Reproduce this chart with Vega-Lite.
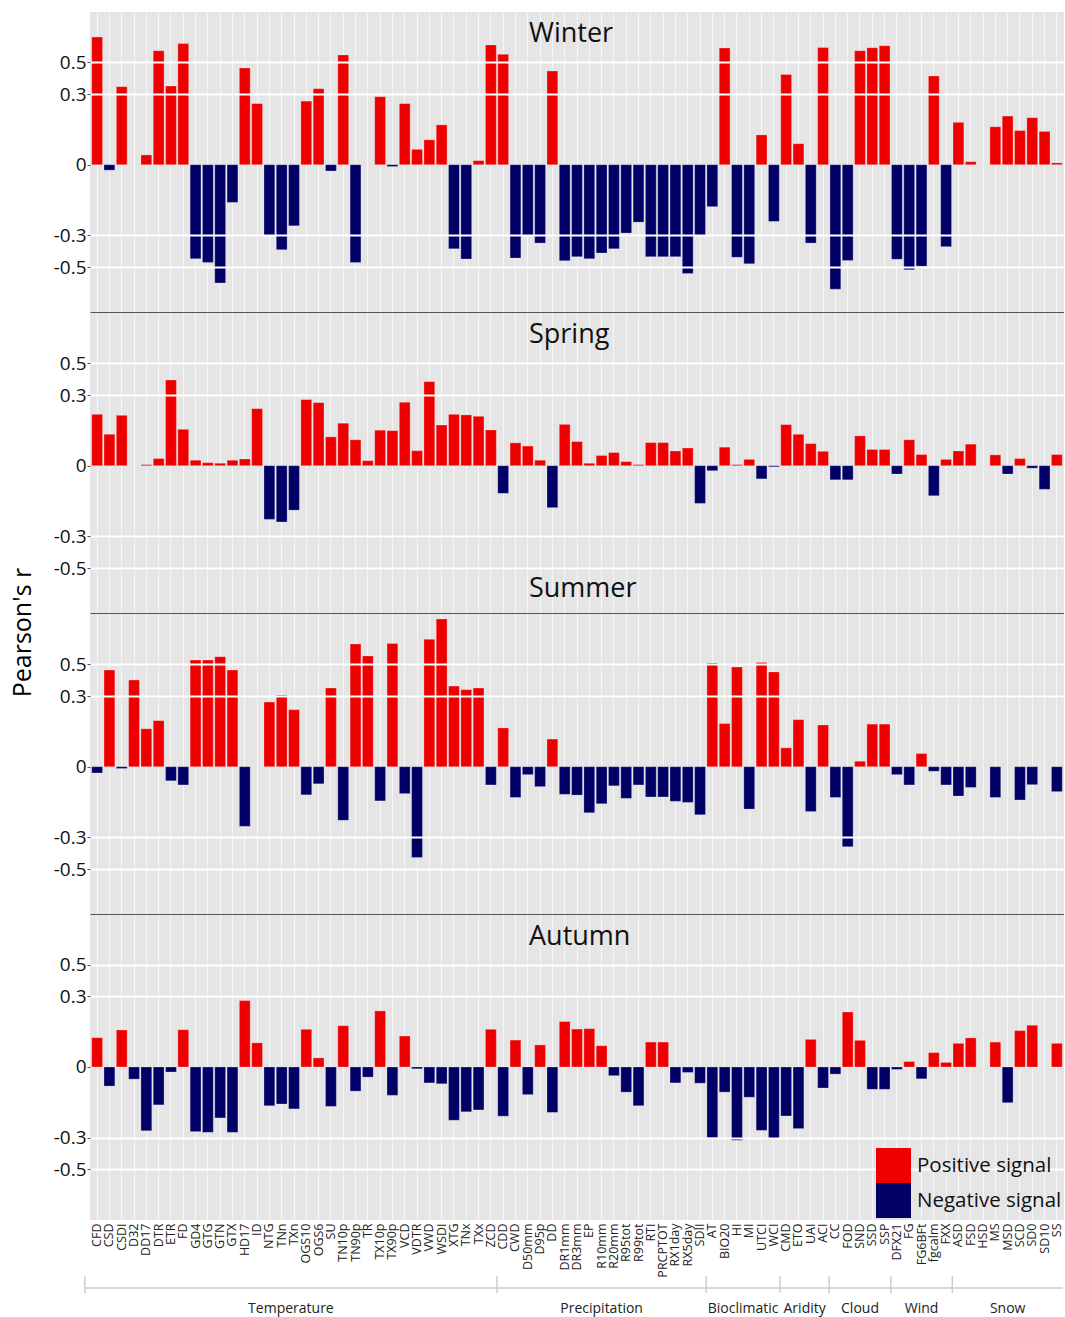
{
  "$schema": "https://vega.github.io/schema/vega-lite/v6.json",
  "padding": {"left": 10, "top": 12, "right": 0, "bottom": 0},
  "spacing": 0,
  "bounds": "flush",
  "config": {
    "font": "Open Sans",
    "view": {"fill": "#e5e5e5", "stroke": null}
  },
  "resolve": {
    "scale": {"x": "independent", "y": "independent", "color": "independent"},
    "legend": {"color": "independent"}
  },
  "datasets": {
    "winter": [
      {"i":"CFD","r":0.675,"s":"P"},{"i":"CSD","r":-0.009,"s":"N"},{"i":"CSDI","r":0.344,"s":"P"},{"i":"DD17","r":0.02,"s":"P"},{"i":"DTR","r":0.578,"s":"P"},{"i":"ETR","r":0.348,"s":"P"},{"i":"FD","r":0.628,"s":"P"},{"i":"GD4","r":-0.444,"s":"N"},{"i":"GTG","r":-0.468,"s":"N"},{"i":"GTN","r":-0.608,"s":"N"},{"i":"GTX","r":-0.127,"s":"N"},{"i":"HD17","r":0.461,"s":"P"},{"i":"ID","r":0.246,"s":"P"},{"i":"NTG","r":-0.302,"s":"N"},{"i":"TNn","r":-0.387,"s":"N"},{"i":"TXn","r":-0.246,"s":"N"},{"i":"OGS10","r":0.26,"s":"P"},{"i":"OGS6","r":0.332,"s":"P"},{"i":"SU","r":-0.011,"s":"N"},{"i":"TN10p","r":0.549,"s":"P"},{"i":"TN90p","r":-0.468,"s":"N"},{"i":"TX10p","r":0.285,"s":"P"},{"i":"TX90p","r":-0.002,"s":"N"},{"i":"VCD","r":0.246,"s":"P"},{"i":"VDTR","r":0.037,"s":"P"},{"i":"VWD","r":0.072,"s":"P"},{"i":"WSDI","r":0.137,"s":"P"},{"i":"XTG","r":-0.381,"s":"N"},{"i":"TNx","r":-0.446,"s":"N"},{"i":"TXx","r":0.006,"s":"P"},{"i":"ZCD","r":0.619,"s":"P"},
      {"i":"CDD","r":0.553,"s":"P"},{"i":"CWD","r":-0.44,"s":"N"},{"i":"D50mm","r":-0.302,"s":"N"},{"i":"D95p","r":-0.346,"s":"N"},{"i":"DD","r":0.442,"s":"P"},{"i":"DR1mm","r":-0.457,"s":"N"},{"i":"DR3mm","r":-0.431,"s":"N"},{"i":"EP","r":-0.444,"s":"N"},{"i":"R10mm","r":-0.408,"s":"N"},{"i":"R20mm","r":-0.381,"s":"N"},{"i":"R95tot","r":-0.287,"s":"N"},{"i":"R99tot","r":-0.226,"s":"N"},{"i":"RTI","r":-0.431,"s":"N"},{"i":"PRCPTOT","r":-0.431,"s":"N"},{"i":"RX1day","r":-0.431,"s":"N"},{"i":"RX5day","r":-0.542,"s":"N"},{"i":"SDII","r":-0.302,"s":"N"},
      {"i":"AT","r":-0.147,"s":"N"},{"i":"BIO20","r":0.597,"s":"P"},{"i":"HI","r":-0.435,"s":"N"},{"i":"MI","r":-0.477,"s":"N"},{"i":"UTCI","r":0.092,"s":"P"},{"i":"WCI","r":-0.222,"s":"N"},
      {"i":"CMD","r":0.42,"s":"P"},{"i":"ETO","r":0.057,"s":"P"},{"i":"UAI","r":-0.346,"s":"N"},{"i":"ACI","r":0.601,"s":"P"},
      {"i":"CC","r":-0.652,"s":"N"},{"i":"FOD","r":-0.455,"s":"N"},{"i":"SND","r":0.578,"s":"P"},{"i":"SSD","r":0.599,"s":"P"},{"i":"SSP","r":0.613,"s":"P"},
      {"i":"DFX21","r":-0.448,"s":"N"},{"i":"FG","r":-0.517,"s":"N"},{"i":"FG6BFt","r":-0.494,"s":"N"},{"i":"fgcalm","r":0.41,"s":"P"},{"i":"FXX","r":-0.368,"s":"N"},
      {"i":"ASD","r":0.149,"s":"P"},{"i":"FSD","r":0.004,"s":"P"},{"i":"MS","r":0.128,"s":"P"},{"i":"MSD","r":0.18,"s":"P"},{"i":"SCD","r":0.111,"s":"P"},{"i":"SD0","r":0.172,"s":"P"},{"i":"SD10","r":0.107,"s":"P"},{"i":"SS","r":0.002,"s":"P"}
    ],
    "spring": [
      {"i":"CFD","r":0.194,"s":"P"},{"i":"CSD","r":0.099,"s":"P"},{"i":"CSDI","r":0.189,"s":"P"},{"i":"DD17","r":0.001,"s":"P"},{"i":"DTR","r":0.013,"s":"P"},{"i":"ETR","r":0.391,"s":"P"},{"i":"FD","r":0.121,"s":"P"},{"i":"GD4","r":0.009,"s":"P"},{"i":"GTG","r":0.004,"s":"P"},{"i":"GTN","r":0.003,"s":"P"},{"i":"GTX","r":0.009,"s":"P"},{"i":"HD17","r":0.012,"s":"P"},{"i":"ID","r":0.224,"s":"P"},{"i":"NTG","r":-0.206,"s":"N"},{"i":"TNn","r":-0.22,"s":"N"},{"i":"TXn","r":-0.159,"s":"N"},{"i":"OGS10","r":0.274,"s":"P"},{"i":"OGS6","r":0.257,"s":"P"},{"i":"SU","r":0.088,"s":"P"},{"i":"TN10p","r":0.15,"s":"P"},{"i":"TN90p","r":0.076,"s":"P"},{"i":"TR","r":0.008,"s":"P"},{"i":"TX10p","r":0.117,"s":"P"},{"i":"TX90p","r":0.115,"s":"P"},{"i":"VCD","r":0.259,"s":"P"},{"i":"VDTR","r":0.036,"s":"P"},{"i":"VWD","r":0.381,"s":"P"},{"i":"WSDI","r":0.141,"s":"P"},{"i":"XTG","r":0.194,"s":"P"},{"i":"TNx","r":0.191,"s":"P"},{"i":"TXx","r":0.184,"s":"P"},{"i":"ZCD","r":0.118,"s":"P"},
      {"i":"CDD","r":-0.083,"s":"N"},{"i":"CWD","r":0.064,"s":"P"},{"i":"D50mm","r":0.052,"s":"P"},{"i":"D95p","r":0.009,"s":"P"},{"i":"DD","r":-0.147,"s":"N"},{"i":"DR1mm","r":0.144,"s":"P"},{"i":"DR3mm","r":0.069,"s":"P"},{"i":"EP","r":0.003,"s":"P"},{"i":"R10mm","r":0.021,"s":"P"},{"i":"R20mm","r":0.03,"s":"P"},{"i":"R95tot","r":0.006,"s":"P"},{"i":"R99tot","r":0.001,"s":"P"},{"i":"RTI","r":0.065,"s":"P"},{"i":"PRCPTOT","r":0.065,"s":"P"},{"i":"RX1day","r":0.035,"s":"P"},{"i":"RX5day","r":0.045,"s":"P"},{"i":"SDII","r":-0.127,"s":"N"},
      {"i":"AT","r":-0.008,"s":"N"},{"i":"BIO20","r":0.048,"s":"P"},{"i":"HI","r":0.001,"s":"P"},{"i":"MI","r":0.011,"s":"P"},{"i":"UTCI","r":-0.03,"s":"N"},{"i":"WCI","r":-0.001,"s":"N"},
      {"i":"CMD","r":0.143,"s":"P"},{"i":"ETO","r":0.099,"s":"P"},{"i":"UAI","r":0.061,"s":"P"},{"i":"ACI","r":0.034,"s":"P"},
      {"i":"CC","r":-0.033,"s":"N"},{"i":"FOD","r":-0.033,"s":"N"},{"i":"SND","r":0.092,"s":"P"},{"i":"SSD","r":0.04,"s":"P"},{"i":"SSP","r":0.04,"s":"P"},
      {"i":"DFX21","r":-0.016,"s":"N"},{"i":"FG","r":0.076,"s":"P"},{"i":"FG6BFt","r":0.024,"s":"P"},{"i":"fgcalm","r":-0.093,"s":"N"},{"i":"FXX","r":0.011,"s":"P"},
      {"i":"ASD","r":0.035,"s":"P"},{"i":"FSD","r":0.059,"s":"P"},{"i":"MS","r":0.023,"s":"P"},{"i":"MSD","r":-0.016,"s":"N"},{"i":"SCD","r":0.013,"s":"P"},{"i":"SD0","r":-0.003,"s":"N"},{"i":"SD10","r":-0.067,"s":"N"},{"i":"SS","r":0.024,"s":"P"}
    ],
    "summer": [
      {"i":"CFD","r":-0.011,"s":"N"},{"i":"CSD","r":0.461,"s":"P"},{"i":"CSDI","r":-0.002,"s":"N"},{"i":"D32","r":0.397,"s":"P"},{"i":"DD17","r":0.128,"s":"P"},{"i":"DTR","r":0.167,"s":"P"},{"i":"ETR","r":-0.033,"s":"N"},{"i":"FD","r":-0.047,"s":"N"},{"i":"GD4","r":0.528,"s":"P"},{"i":"GTG","r":0.528,"s":"P"},{"i":"GTN","r":0.551,"s":"P"},{"i":"GTX","r":0.461,"s":"P"},{"i":"HD17","r":-0.238,"s":"N"},{"i":"NTG","r":0.266,"s":"P"},{"i":"TNn","r":0.306,"s":"P"},{"i":"TXn","r":0.224,"s":"P"},{"i":"OGS10","r":-0.085,"s":"N"},{"i":"OGS6","r":-0.043,"s":"N"},{"i":"SU","r":0.348,"s":"P"},{"i":"TN10p","r":-0.206,"s":"N"},{"i":"TN90p","r":0.64,"s":"P"},{"i":"TR","r":0.556,"s":"P"},{"i":"TX10p","r":-0.111,"s":"N"},{"i":"TX90p","r":0.644,"s":"P"},{"i":"VCD","r":-0.08,"s":"N"},{"i":"VDTR","r":-0.423,"s":"N"},{"i":"VWD","r":0.673,"s":"P"},{"i":"WSDI","r":0.825,"s":"P"},{"i":"XTG","r":0.36,"s":"P"},{"i":"TNx","r":0.338,"s":"P"},{"i":"TXx","r":0.348,"s":"P"},{"i":"ZCD","r":-0.047,"s":"N"},
      {"i":"CDD","r":0.132,"s":"P"},{"i":"CWD","r":-0.096,"s":"N"},{"i":"D50mm","r":-0.015,"s":"N"},{"i":"D95p","r":-0.053,"s":"N"},{"i":"DD","r":0.083,"s":"P"},{"i":"DR1mm","r":-0.083,"s":"N"},{"i":"DR3mm","r":-0.086,"s":"N"},{"i":"EP","r":-0.167,"s":"N"},{"i":"R10mm","r":-0.124,"s":"N"},{"i":"R20mm","r":-0.05,"s":"N"},{"i":"R95tot","r":-0.1,"s":"N"},{"i":"R99tot","r":-0.047,"s":"N"},{"i":"RTI","r":-0.094,"s":"N"},{"i":"PRCPTOT","r":-0.094,"s":"N"},{"i":"RX1day","r":-0.113,"s":"N"},{"i":"RX5day","r":-0.118,"s":"N"},{"i":"SDII","r":-0.177,"s":"N"},
      {"i":"AT","r":0.508,"s":"P"},{"i":"BIO20","r":0.153,"s":"P"},{"i":"HI","r":0.481,"s":"P"},{"i":"MI","r":-0.149,"s":"N"},{"i":"UTCI","r":0.512,"s":"P"},{"i":"WCI","r":0.449,"s":"P"},
      {"i":"CMD","r":0.049,"s":"P"},{"i":"ETO","r":0.172,"s":"P"},{"i":"UAI","r":-0.161,"s":"N"},{"i":"ACI","r":0.146,"s":"P"},
      {"i":"CC","r":-0.096,"s":"N"},{"i":"FOD","r":-0.356,"s":"N"},{"i":"SND","r":0.009,"s":"P"},{"i":"SSD","r":0.15,"s":"P"},{"i":"SSP","r":0.15,"s":"P"},
      {"i":"DFX21","r":-0.015,"s":"N"},{"i":"FG","r":-0.047,"s":"N"},{"i":"FG6BFt","r":0.03,"s":"P"},{"i":"fgcalm","r":-0.007,"s":"N"},{"i":"FXX","r":-0.047,"s":"N"},
      {"i":"ASD","r":-0.09,"s":"N"},{"i":"FSD","r":-0.056,"s":"N"},{"i":"MS","r":-0.096,"s":"N"},{"i":"SCD","r":-0.107,"s":"N"},{"i":"SD0","r":-0.046,"s":"N"},{"i":"SS","r":-0.072,"s":"N"}
    ],
    "autumn": [
      {"i":"CFD","r":0.09,"s":"P"},{"i":"CSD","r":-0.05,"s":"N"},{"i":"CSDI","r":0.124,"s":"P"},{"i":"D32","r":-0.027,"s":"N"},{"i":"DD17","r":-0.261,"s":"N"},{"i":"DTR","r":-0.128,"s":"N"},{"i":"ETR","r":-0.008,"s":"N"},{"i":"FD","r":0.125,"s":"P"},{"i":"GD4","r":-0.266,"s":"N"},{"i":"GTG","r":-0.27,"s":"N"},{"i":"GTN","r":-0.192,"s":"N"},{"i":"GTX","r":-0.27,"s":"N"},{"i":"HD17","r":0.276,"s":"P"},{"i":"ID","r":0.069,"s":"P"},{"i":"NTG","r":-0.132,"s":"N"},{"i":"TNn","r":-0.124,"s":"N"},{"i":"TXn","r":-0.147,"s":"N"},{"i":"OGS10","r":0.127,"s":"P"},{"i":"OGS6","r":0.018,"s":"P"},{"i":"SU","r":-0.135,"s":"N"},{"i":"TN10p","r":0.144,"s":"P"},{"i":"TN90p","r":-0.069,"s":"N"},{"i":"TR","r":-0.021,"s":"N"},{"i":"TX10p","r":0.219,"s":"P"},{"i":"TX90p","r":-0.086,"s":"N"},{"i":"VCD","r":0.097,"s":"P"},{"i":"VDTR","r":-0.002,"s":"N"},{"i":"VWD","r":-0.039,"s":"N"},{"i":"WSDI","r":-0.042,"s":"N"},{"i":"XTG","r":-0.204,"s":"N"},{"i":"TNx","r":-0.161,"s":"N"},{"i":"TXx","r":-0.152,"s":"N"},{"i":"ZCD","r":0.127,"s":"P"},
      {"i":"CDD","r":-0.183,"s":"N"},{"i":"CWD","r":0.08,"s":"P"},{"i":"D50mm","r":-0.083,"s":"N"},{"i":"D95p","r":0.061,"s":"P"},{"i":"DD","r":-0.164,"s":"N"},{"i":"DR1mm","r":0.164,"s":"P"},{"i":"DR3mm","r":0.128,"s":"P"},{"i":"EP","r":0.13,"s":"P"},{"i":"R10mm","r":0.058,"s":"P"},{"i":"R20mm","r":-0.017,"s":"N"},{"i":"R95tot","r":-0.073,"s":"N"},{"i":"R99tot","r":-0.132,"s":"N"},{"i":"RTI","r":0.072,"s":"P"},{"i":"PRCPTOT","r":0.072,"s":"P"},{"i":"RX1day","r":-0.039,"s":"N"},{"i":"RX5day","r":-0.009,"s":"N"},{"i":"SDII","r":-0.04,"s":"N"},
      {"i":"AT","r":-0.301,"s":"N"},{"i":"BIO20","r":-0.073,"s":"N"},{"i":"HI","r":-0.316,"s":"N"},{"i":"MI","r":-0.094,"s":"N"},{"i":"UTCI","r":-0.259,"s":"N"},{"i":"WCI","r":-0.306,"s":"N"},
      {"i":"CMD","r":-0.182,"s":"N"},{"i":"ETO","r":-0.249,"s":"N"},{"i":"UAI","r":0.083,"s":"P"},{"i":"ACI","r":-0.057,"s":"N"},
      {"i":"CC","r":-0.013,"s":"N"},{"i":"FOD","r":0.213,"s":"P"},{"i":"SND","r":0.079,"s":"P"},{"i":"SSD","r":-0.062,"s":"N"},{"i":"SSP","r":-0.062,"s":"N"},
      {"i":"DFX21","r":-0.003,"s":"N"},{"i":"FG","r":0.009,"s":"P"},{"i":"FG6BFt","r":-0.026,"s":"N"},{"i":"fgcalm","r":0.034,"s":"P"},{"i":"FXX","r":0.007,"s":"P"},
      {"i":"ASD","r":0.067,"s":"P"},{"i":"FSD","r":0.089,"s":"P"},{"i":"MS","r":0.072,"s":"P"},{"i":"MSD","r":-0.118,"s":"N"},{"i":"SCD","r":0.121,"s":"P"},{"i":"SD0","r":0.146,"s":"P"},{"i":"SS","r":0.067,"s":"P"}
    ],
    "groups": [
      {"g":"Temperature","from":0,"to":33.5},
      {"g":"Precipitation","from":33.5,"to":50.5},
      {"g":"Bioclimatic","from":50.5,"to":56.5},
      {"g":"Aridity","from":56.5,"to":60.5},
      {"g":"Cloud","from":60.5,"to":65.5},
      {"g":"Wind","from":65.5,"to":70.5},
      {"g":"Snow","from":70.5,"to":79.5}
    ]
  },
  "vconcat": [
    {
      "width": 974, "height": 301,
      "data": {"name": "winter"},
      "title": {"text": "Winter", "fontSize": 27, "fontWeight": "normal", "color": "#111", "anchor": "start", "frame": "group", "dx": 439, "offset": -36},
      "mark": {"type": "bar", "stroke": "white", "strokeWidth": 0.5, "strokeOpacity": 0.5},
      "encoding": {
        "x": {"field": "i", "type": "nominal",
          "scale": {"domain": ["CFD","CSD","CSDI","D32","DD17","DTR","ETR","FD","GD4","GTG","GTN","GTX","HD17","ID","NTG","TNn","TXn","OGS10","OGS6","SU","TN10p","TN90p","TR","TX10p","TX90p","VCD","VDTR","VWD","WSDI","XTG","TNx","TXx","ZCD","CDD","CWD","D50mm","D95p","DD","DR1mm","DR3mm","EP","R10mm","R20mm","R95tot","R99tot","RTI","PRCPTOT","RX1day","RX5day","SDII","AT","BIO20","HI","MI","UTCI","WCI","CMD","ETO","UAI","ACI","CC","FOD","SND","SSD","SSP","DFX21","FG","FG6BFt","fgcalm","FXX","ASD","FSD","HSD","MS","MSD","SCD","SD0","SD10","SS"], "paddingInner": 0.12, "paddingOuter": 0.14},
          "axis": {"title": null, "labels": false, "ticks": false, "domain": true, "domainColor": "#555555", "domainWidth": 3, "grid": true, "gridColor": "white", "gridWidth": 0.8, "gridOpacity": 0.8}},
        "y": {"field": "r", "type": "quantitative",
          "scale": {"type": "pow", "exponent": 0.73, "domain": [-0.829, 0.863], "nice": false, "zero": false},
          "axis": {"title": null, "values": [-0.5, -0.3, 0, 0.3, 0.5], "domain": false, "ticks": true, "tickSize": 3, "tickColor": "#555", "labelFontSize": 19, "labelColor": "#111", "labelPadding": 1, "labelExpr": "datum.value == 0 ? '0' : replace(datum.label, '\u2212', '-')", "grid": true, "gridColor": "white", "gridWidth": 2, "gridOpacity": {"condition": {"test": "datum.value === 0", "value": 0}, "value": 1}, "zindex": 1}},
        "y2": {"datum": 0},
        "color": {"field": "s", "type": "nominal", "scale": {"domain": ["P", "N"], "range": ["#ee0000", "#000066"]}, "legend": null}
      }
    },
    {
      "width": 974, "height": 301,
      "data": {"name": "spring"},
      "title": {"text": "Spring", "fontSize": 27, "fontWeight": "normal", "color": "#111", "anchor": "start", "frame": "group", "dx": 439, "offset": -36},
      "mark": {"type": "bar", "stroke": "white", "strokeWidth": 0.5, "strokeOpacity": 0.5},
      "encoding": {
        "x": {"field": "i", "type": "nominal",
          "scale": {"domain": ["CFD","CSD","CSDI","D32","DD17","DTR","ETR","FD","GD4","GTG","GTN","GTX","HD17","ID","NTG","TNn","TXn","OGS10","OGS6","SU","TN10p","TN90p","TR","TX10p","TX90p","VCD","VDTR","VWD","WSDI","XTG","TNx","TXx","ZCD","CDD","CWD","D50mm","D95p","DD","DR1mm","DR3mm","EP","R10mm","R20mm","R95tot","R99tot","RTI","PRCPTOT","RX1day","RX5day","SDII","AT","BIO20","HI","MI","UTCI","WCI","CMD","ETO","UAI","ACI","CC","FOD","SND","SSD","SSP","DFX21","FG","FG6BFt","fgcalm","FXX","ASD","FSD","HSD","MS","MSD","SCD","SD0","SD10","SS"], "paddingInner": 0.12, "paddingOuter": 0.14},
          "axis": {"title": null, "labels": false, "ticks": false, "domain": true, "domainColor": "#555555", "domainWidth": 3, "grid": true, "gridColor": "white", "gridWidth": 0.8, "gridOpacity": 0.8}},
        "y": {"field": "r", "type": "quantitative",
          "scale": {"type": "pow", "exponent": 0.73, "domain": [-0.829, 0.863], "nice": false, "zero": false},
          "axis": {"title": null, "values": [-0.5, -0.3, 0, 0.3, 0.5], "domain": false, "ticks": true, "tickSize": 3, "tickColor": "#555", "labelFontSize": 19, "labelColor": "#111", "labelPadding": 1, "labelExpr": "datum.value == 0 ? '0' : replace(datum.label, '\u2212', '-')", "grid": true, "gridColor": "white", "gridWidth": 2, "gridOpacity": {"condition": {"test": "datum.value === 0", "value": 0}, "value": 1}, "zindex": 1}},
        "y2": {"datum": 0},
        "color": {"field": "s", "type": "nominal", "scale": {"domain": ["P", "N"], "range": ["#ee0000", "#000066"]}, "legend": null}
      }
    },
    {
      "width": 974, "height": 301,
      "data": {"name": "summer"},
      "title": {"text": "Summer", "fontSize": 27, "fontWeight": "normal", "color": "#111", "anchor": "start", "frame": "group", "dx": 439, "offset": -36},
      "mark": {"type": "bar", "stroke": "white", "strokeWidth": 0.5, "strokeOpacity": 0.5},
      "encoding": {
        "x": {"field": "i", "type": "nominal",
          "scale": {"domain": ["CFD","CSD","CSDI","D32","DD17","DTR","ETR","FD","GD4","GTG","GTN","GTX","HD17","ID","NTG","TNn","TXn","OGS10","OGS6","SU","TN10p","TN90p","TR","TX10p","TX90p","VCD","VDTR","VWD","WSDI","XTG","TNx","TXx","ZCD","CDD","CWD","D50mm","D95p","DD","DR1mm","DR3mm","EP","R10mm","R20mm","R95tot","R99tot","RTI","PRCPTOT","RX1day","RX5day","SDII","AT","BIO20","HI","MI","UTCI","WCI","CMD","ETO","UAI","ACI","CC","FOD","SND","SSD","SSP","DFX21","FG","FG6BFt","fgcalm","FXX","ASD","FSD","HSD","MS","MSD","SCD","SD0","SD10","SS"], "paddingInner": 0.12, "paddingOuter": 0.14},
          "axis": {"title": null, "labels": false, "ticks": false, "domain": true, "domainColor": "#555555", "domainWidth": 3, "grid": true, "gridColor": "white", "gridWidth": 0.8, "gridOpacity": 0.8}},
        "y": {"field": "r", "type": "quantitative",
          "scale": {"type": "pow", "exponent": 0.73, "domain": [-0.829, 0.863], "nice": false, "zero": false},
          "axis": {"title": "Pearson's r", "titleFontSize": 25, "titleFontWeight": "normal", "titleColor": "#000", "titleY": 18, "titlePadding": 18, "values": [-0.5, -0.3, 0, 0.3, 0.5], "domain": false, "ticks": true, "tickSize": 3, "tickColor": "#555", "labelFontSize": 19, "labelColor": "#111", "labelPadding": 1, "labelExpr": "datum.value == 0 ? '0' : replace(datum.label, '\u2212', '-')", "grid": true, "gridColor": "white", "gridWidth": 2, "gridOpacity": {"condition": {"test": "datum.value === 0", "value": 0}, "value": 1}, "zindex": 1}},
        "y2": {"datum": 0},
        "color": {"field": "s", "type": "nominal", "scale": {"domain": ["P", "N"], "range": ["#ee0000", "#000066"]}, "legend": null}
      }
    },
    {
      "width": 974, "height": 305,
      "data": {"name": "autumn"},
      "title": {"text": "Autumn", "fontSize": 27, "fontWeight": "normal", "color": "#111", "anchor": "start", "frame": "group", "dx": 439, "offset": -36},
      "mark": {"type": "bar", "stroke": "white", "strokeWidth": 0.5, "strokeOpacity": 0.5},
      "encoding": {
        "x": {"field": "i", "type": "nominal",
          "scale": {"domain": ["CFD","CSD","CSDI","D32","DD17","DTR","ETR","FD","GD4","GTG","GTN","GTX","HD17","ID","NTG","TNn","TXn","OGS10","OGS6","SU","TN10p","TN90p","TR","TX10p","TX90p","VCD","VDTR","VWD","WSDI","XTG","TNx","TXx","ZCD","CDD","CWD","D50mm","D95p","DD","DR1mm","DR3mm","EP","R10mm","R20mm","R95tot","R99tot","RTI","PRCPTOT","RX1day","RX5day","SDII","AT","BIO20","HI","MI","UTCI","WCI","CMD","ETO","UAI","ACI","CC","FOD","SND","SSD","SSP","DFX21","FG","FG6BFt","fgcalm","FXX","ASD","FSD","HSD","MS","MSD","SCD","SD0","SD10","SS"], "paddingInner": 0.12, "paddingOuter": 0.14},
          "axis": {"title": null, "labels": true, "labelAngle": 270, "labelFontSize": 12.5, "labelColor": "#222", "labelPadding": 3, "labelOverlap": false, "labelBound": false, "ticks": false, "domain": false, "grid": true, "gridColor": "white", "gridWidth": 0.8, "gridOpacity": 0.8}},
        "y": {"field": "r", "type": "quantitative",
          "scale": {"type": "pow", "exponent": 0.73, "domain": [-0.866, 0.858], "nice": false, "zero": false},
          "axis": {"title": null, "values": [-0.5, -0.3, 0, 0.3, 0.5], "domain": false, "ticks": true, "tickSize": 3, "tickColor": "#555", "labelFontSize": 19, "labelColor": "#111", "labelPadding": 1, "labelExpr": "datum.value == 0 ? '0' : replace(datum.label, '\u2212', '-')", "grid": true, "gridColor": "white", "gridWidth": 2, "gridOpacity": {"condition": {"test": "datum.value === 0", "value": 0}, "value": 1}, "zindex": 1}},
        "y2": {"datum": 0},
        "color": {"field": "s", "type": "nominal", "scale": {"domain": ["P", "N"], "range": ["#ee0000", "#000066"]},
          "legend": {"orient": "bottom-right", "title": null, "zindex": 3, "symbolType": "square", "symbolSize": 1225, "symbolStrokeWidth": 0, "symbolOpacity": 1, "labelFontSize": 20.5, "labelColor": "#111", "labelLimit": 300, "labelOffset": 6, "rowPadding": 0, "padding": 0, "offset": 2, "labelExpr": "datum.label == 'P' ? 'Positive signal' : 'Negative signal'"}}
      }
    },
    {
      "width": 974, "height": 97,
      "view": {"fill": null, "stroke": null},
      "data": {"name": "groups"},
      "layer": [
        {
          "mark": {"type": "rule", "color": "#c6ced6", "strokeWidth": 1.5},
          "encoding": {
            "x": {"field": "from", "type": "quantitative", "scale": {"domain": [0.42, 79.58], "nice": false, "zero": false}, "axis": null},
            "x2": {"field": "to"},
            "y": {"datum": 68, "type": "quantitative", "scale": {"domain": [0, 97], "reverse": true, "nice": false}, "axis": null}
          }
        },
        {
          "mark": {"type": "rule", "color": "#c6ced6", "strokeWidth": 1.5},
          "encoding": {
            "x": {"field": "from", "type": "quantitative"},
            "y": {"datum": 56, "type": "quantitative"},
            "y2": {"datum": 73}
          }
        },
        {
          "transform": [
            {"fold": ["from", "to"]},
            {"aggregate": [{"op": "mean", "field": "value", "as": "mid"}], "groupby": ["g"]}
          ],
          "mark": {"type": "text", "fontSize": 14, "color": "#222"},
          "encoding": {
            "x": {"field": "mid", "type": "quantitative"},
            "y": {"datum": 89, "type": "quantitative"},
            "text": {"field": "g"}
          }
        }
      ]
    }
  ]
}
